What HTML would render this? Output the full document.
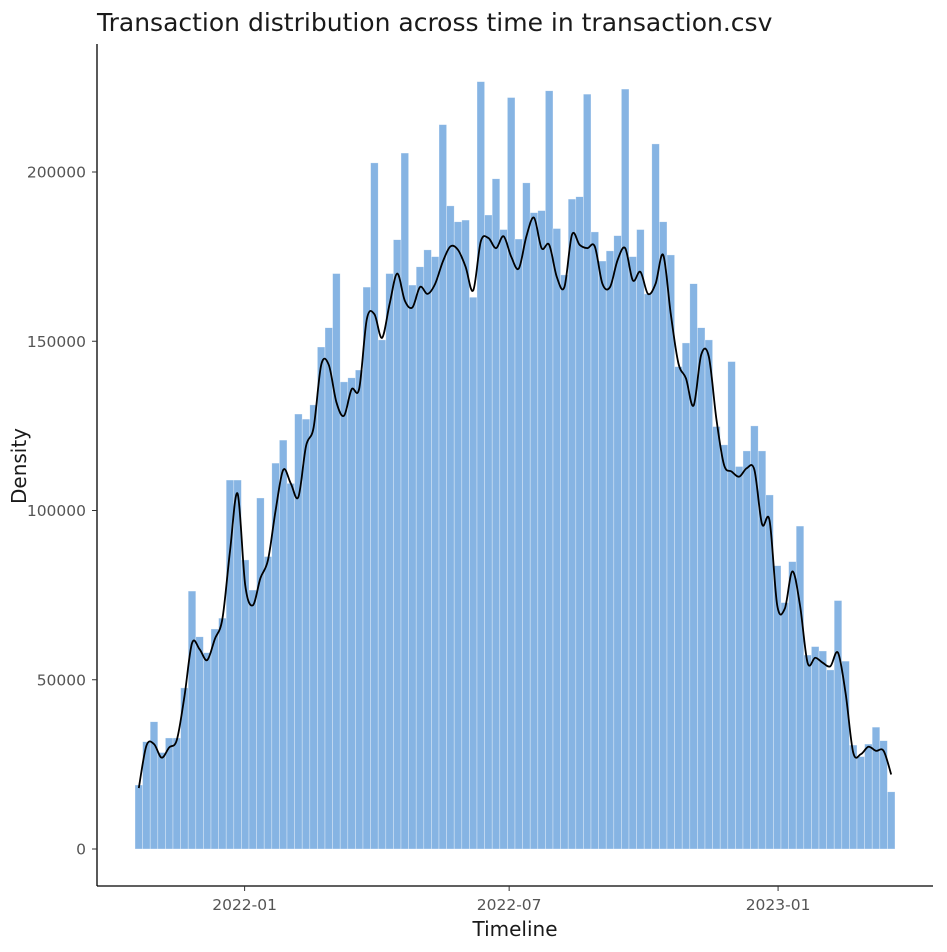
<!DOCTYPE html>
<html><head><meta charset="utf-8"><style>
body{margin:0;background:#fff;}
svg{display:block;font-family:"DejaVu Sans","Liberation Sans",sans-serif;}
</style></head><body>
<svg id="chart" width="947" height="952" viewBox="0 0 947 952">
<text x="97" y="31" font-size="25" fill="#1a1a1a">Transaction distribution across time in transaction.csv</text>
<g id="bars"></g>
<path id="density" fill="none" stroke="#000" stroke-width="1.8"></path>
<line x1="97" y1="44" x2="97" y2="886" stroke="#000" stroke-width="1.3"/>
<line x1="97" y1="886" x2="933" y2="886" stroke="#000" stroke-width="1.3"/>
<g id="yticks"></g>
<g id="xticks"></g>
<text x="515" y="936" font-size="20" text-anchor="middle" fill="#1a1a1a">Timeline</text>
<text transform="translate(26,466) rotate(-90)" font-size="20" text-anchor="middle" fill="#1a1a1a">Density</text>
</svg>
<script>
const barValues=[18900,31700,37600,28500,32800,32800,47600,76200,62700,58000,65000,68200,109000,109000,85400,76500,103700,86400,114000,120800,108000,128500,127000,131200,148300,154000,170000,138000,139200,141500,166000,202700,150400,170000,180000,205600,166600,172000,177000,175000,214000,190000,185300,185800,163000,226700,187300,198000,183000,222000,180200,196800,188000,188600,224000,183300,169600,192000,192700,223000,182300,173700,176700,181200,224500,175000,183000,164000,208300,185300,175500,142500,149500,167000,154000,150400,124800,119400,144000,113000,117600,125000,117600,104600,83700,72800,84900,95400,57300,59800,58500,52900,73400,55500,30700,27300,31000,36000,32000,16900];
const densityValues=[18000,30500,31000,27000,30000,32200,45000,60800,59000,55800,62000,68000,88000,105000,78000,72000,80000,85400,100000,112000,108000,104000,119000,124500,143000,143000,132000,128000,135800,136000,156500,158000,151000,161000,170000,162000,160000,166000,164000,167000,173500,178000,177000,172000,165000,179500,180500,177500,181000,175000,171500,181000,186500,177500,178500,169000,166000,181500,178500,177500,178000,167000,166000,174000,177500,168000,170500,164000,167000,175500,158000,143500,139000,131000,146000,145500,127000,113500,111500,110000,112500,112000,96000,97000,72000,71000,82000,72000,55000,56500,55000,54000,58000,46000,28500,28000,30200,29000,29000,22000];
const yTickValues=[0,50000,100000,150000,200000];
const xTickLabels=["2022-01","2022-07","2023-01"];
const xTickDates=["2022-01-01","2022-07-01","2023-01-01"];
const binStartDate="2021-10-18";
const binDays=5.2;

const NS="http://www.w3.org/2000/svg";
const x0=135,x1=895,nb=barValues.length,bw=(x1-x0)/nb;
function yScale(v){return 849-v*(677/200000);}
function xBin(i){return x0+i*bw;}
function xDate(s){const d=(Date.parse(s)-Date.parse(binStartDate))/86400000;return x0+d/binDays*bw;}

const gb=document.getElementById('bars');
barValues.forEach((v,i)=>{
  const r=document.createElementNS(NS,'rect');
  r.setAttribute('x',xBin(i));r.setAttribute('width',bw);
  r.setAttribute('y',yScale(v));r.setAttribute('height',yScale(0)-yScale(v));
  r.setAttribute('fill','#86b4e3');r.setAttribute('stroke','rgba(255,255,255,0.55)');r.setAttribute('stroke-width','0.6');
  
  
  gb.appendChild(r);
});
const pts=densityValues.map((v,i)=>[xBin(i)+bw/2,yScale(v)]);
let d='M'+pts[0][0]+','+pts[0][1];
for(let i=0;i<pts.length-1;i++){
  const p0=pts[Math.max(0,i-1)],p1=pts[i],p2=pts[i+1],p3=pts[Math.min(pts.length-1,i+2)];
  const c1=[p1[0]+(p2[0]-p0[0])/6,p1[1]+(p2[1]-p0[1])/6],c2=[p2[0]-(p3[0]-p1[0])/6,p2[1]-(p3[1]-p1[1])/6];
  d+=' C'+c1[0]+','+c1[1]+' '+c2[0]+','+c2[1]+' '+p2[0]+','+p2[1];
}
document.getElementById('density').setAttribute('d',d);

const gy=document.getElementById('yticks');
yTickValues.forEach(v=>{
  const y=yScale(v);
  const l=document.createElementNS(NS,'line');
  l.setAttribute('x1',92);l.setAttribute('x2',97);l.setAttribute('y1',y);l.setAttribute('y2',y);l.setAttribute('stroke','#333');
  
  
  gy.appendChild(l);
  const t=document.createElementNS(NS,'text');
  t.setAttribute('x',86);t.setAttribute('y',y+5.5);t.setAttribute('text-anchor','end');t.setAttribute('font-size','15.5');t.setAttribute('fill','#555');
  t.textContent=String(v);
  
  
  gy.appendChild(t);
});
const gx=document.getElementById('xticks');
xTickDates.forEach((s,i)=>{
  const x=xDate(s);
  const l=document.createElementNS(NS,'line');
  l.setAttribute('x1',x);l.setAttribute('x2',x);l.setAttribute('y1',886);l.setAttribute('y2',891);l.setAttribute('stroke','#333');
  
  
  gx.appendChild(l);
  const t=document.createElementNS(NS,'text');
  t.setAttribute('x',x);t.setAttribute('y',910);t.setAttribute('text-anchor','middle');t.setAttribute('font-size','15.5');t.setAttribute('fill','#555');
  t.textContent=xTickLabels[i];
  
  
  gx.appendChild(t);
});
</script>
</body></html>
